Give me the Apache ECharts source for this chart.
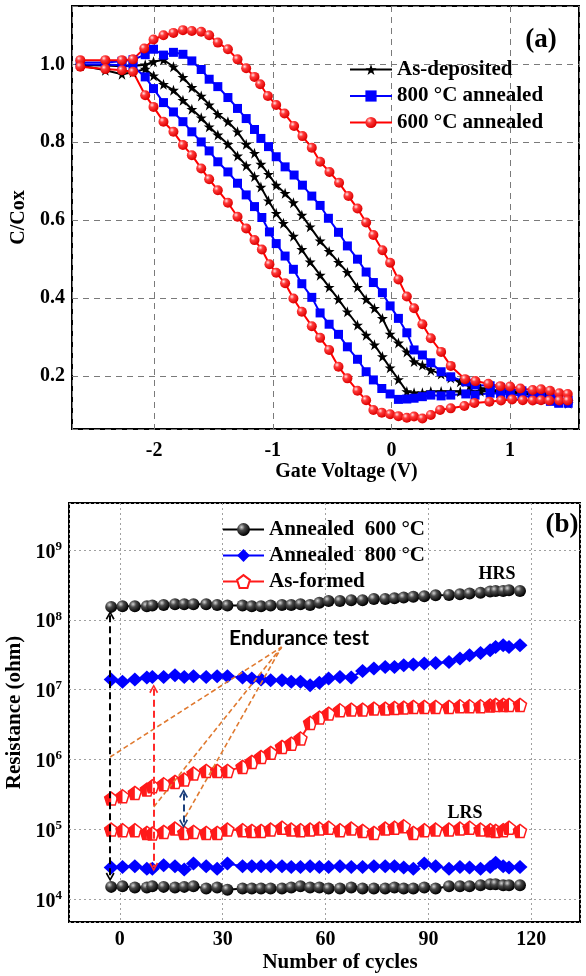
<!DOCTYPE html>
<html>
<head>
<meta charset="utf-8">
<script src="https://cdn.jsdelivr.net/npm/echarts@6/dist/echarts.min.js"></script>
<style>
  html, body { margin: 0; padding: 0; background: #fff; }
  #chart { width: 586px; height: 976px; }
</style>
</head>
<body>
<div id="chart"></div>
<script>
// ---- panel (a): C-V hysteresis, [gate voltage, C/Cox] ----
const cvAsDepUp = [[-2.622,0.998],[-2.411,0.997],[-2.271,0.995],[-2.178,0.996],[-2.075,0.999],[-2.005,1.007],[-1.921,1.012],[-1.837,0.994],[-1.757,0.967],[-1.682,0.941],[-1.603,0.919],[-1.536,0.896],[-1.463,0.872],[-1.378,0.853],[-1.297,0.827],[-1.224,0.795],[-1.154,0.772],[-1.100,0.744],[-1.036,0.718],[-0.971,0.690],[-0.896,0.669],[-0.826,0.645],[-0.755,0.613],[-0.685,0.583],[-0.601,0.547],[-0.525,0.520],[-0.446,0.492],[-0.371,0.466],[-0.286,0.428],[-0.213,0.397],[-0.143,0.374],[-0.076,0.348],[-0.011,0.308],[0.059,0.285],[0.130,0.262],[0.191,0.237],[0.261,0.228],[0.332,0.215],[0.419,0.205],[0.500,0.195],[0.580,0.185],[0.660,0.175],[0.750,0.168],[0.830,0.165],[0.920,0.162],[1.000,0.160],[1.100,0.158],[1.200,0.156],[1.300,0.150],[1.400,0.140],[1.490,0.135]];
const cvAsDepDown = [[-2.622,0.997],[-2.411,0.985],[-2.271,0.975],[-2.178,0.980],[-2.075,0.988],[-2.005,0.971],[-1.921,0.949],[-1.837,0.934],[-1.757,0.908],[-1.682,0.885],[-1.603,0.863],[-1.536,0.840],[-1.463,0.819],[-1.378,0.795],[-1.297,0.765],[-1.224,0.740],[-1.154,0.712],[-1.100,0.685],[-1.036,0.650],[-0.971,0.618],[-0.910,0.592],[-0.826,0.559],[-0.755,0.525],[-0.685,0.493],[-0.601,0.459],[-0.525,0.428],[-0.446,0.397],[-0.371,0.365],[-0.286,0.331],[-0.213,0.305],[-0.143,0.280],[-0.076,0.250],[-0.011,0.221],[0.059,0.191],[0.130,0.160],[0.191,0.157],[0.261,0.157],[0.332,0.160],[0.419,0.160],[0.500,0.160],[0.580,0.160],[0.660,0.161],[0.750,0.161],[0.830,0.160],[0.920,0.158],[1.000,0.157],[1.100,0.155],[1.200,0.150],[1.300,0.143],[1.400,0.135],[1.490,0.130]];
const cv800Up = [[-2.622,1.005],[-2.411,1.005],[-2.271,1.008],[-2.178,1.012],[-2.075,1.025],[-2.005,1.039],[-1.921,1.024],[-1.837,1.031],[-1.757,1.026],[-1.682,1.009],[-1.603,0.987],[-1.536,0.962],[-1.463,0.943],[-1.378,0.915],[-1.297,0.887],[-1.224,0.861],[-1.154,0.833],[-1.100,0.810],[-1.036,0.789],[-0.971,0.763],[-0.896,0.737],[-0.820,0.716],[-0.750,0.690],[-0.671,0.662],[-0.601,0.638],[-0.531,0.605],[-0.446,0.569],[-0.371,0.534],[-0.286,0.500],[-0.213,0.467],[-0.152,0.440],[-0.076,0.414],[-0.011,0.380],[0.059,0.348],[0.130,0.311],[0.191,0.267],[0.261,0.254],[0.332,0.234],[0.419,0.211],[0.500,0.198],[0.627,0.185],[0.705,0.177],[0.832,0.175],[0.920,0.170],[1.000,0.166],[1.100,0.162],[1.190,0.158],[1.260,0.152],[1.340,0.146],[1.410,0.140],[1.490,0.138]];
const cv800Down = [[-2.622,1.000],[-2.411,1.000],[-2.271,0.998],[-2.178,0.995],[-2.075,0.968],[-2.005,0.938],[-1.921,0.902],[-1.837,0.878],[-1.757,0.853],[-1.682,0.827],[-1.603,0.801],[-1.536,0.778],[-1.463,0.750],[-1.378,0.724],[-1.297,0.695],[-1.224,0.665],[-1.154,0.635],[-1.092,0.607],[-1.028,0.570],[-0.971,0.540],[-0.896,0.508],[-0.826,0.474],[-0.755,0.437],[-0.671,0.402],[-0.601,0.362],[-0.525,0.333],[-0.446,0.307],[-0.371,0.275],[-0.286,0.243],[-0.213,0.211],[-0.152,0.190],[-0.081,0.168],[-0.011,0.154],[0.059,0.140],[0.130,0.141],[0.191,0.143],[0.261,0.147],[0.332,0.151],[0.419,0.149],[0.500,0.151],[0.627,0.154],[0.705,0.151],[0.832,0.156],[0.920,0.155],[1.000,0.153],[1.100,0.150],[1.190,0.145],[1.260,0.140],[1.340,0.135],[1.410,0.130],[1.490,0.130]];
const cv600Up = [[-2.622,1.011],[-2.411,1.011],[-2.271,1.011],[-2.178,1.013],[-2.083,1.041],[-2.005,1.064],[-1.921,1.075],[-1.837,1.081],[-1.757,1.088],[-1.682,1.086],[-1.603,1.084],[-1.536,1.075],[-1.463,1.056],[-1.378,1.039],[-1.297,1.013],[-1.224,0.990],[-1.154,0.968],[-1.106,0.949],[-1.041,0.919],[-0.971,0.896],[-0.901,0.874],[-0.820,0.842],[-0.750,0.816],[-0.671,0.786],[-0.601,0.750],[-0.522,0.724],[-0.441,0.696],[-0.362,0.662],[-0.286,0.630],[-0.213,0.594],[-0.152,0.562],[-0.076,0.523],[-0.011,0.491],[0.059,0.448],[0.130,0.404],[0.191,0.374],[0.261,0.333],[0.332,0.297],[0.419,0.262],[0.500,0.226],[0.621,0.192],[0.708,0.187],[0.817,0.180],[0.918,0.174],[1.000,0.173],[1.087,0.168],[1.191,0.164],[1.261,0.166],[1.337,0.162],[1.415,0.156],[1.486,0.154]];
const cv600Down = [[-2.622,0.994],[-2.411,0.988],[-2.271,0.985],[-2.178,0.981],[-2.075,0.921],[-2.005,0.891],[-1.921,0.853],[-1.837,0.827],[-1.757,0.793],[-1.682,0.767],[-1.603,0.733],[-1.536,0.705],[-1.463,0.677],[-1.378,0.645],[-1.297,0.609],[-1.224,0.579],[-1.154,0.549],[-1.092,0.525],[-1.028,0.487],[-0.971,0.465],[-0.896,0.438],[-0.826,0.399],[-0.755,0.365],[-0.671,0.328],[-0.601,0.298],[-0.525,0.267],[-0.446,0.224],[-0.371,0.194],[-0.286,0.162],[-0.213,0.138],[-0.152,0.113],[-0.081,0.106],[-0.011,0.102],[0.059,0.097],[0.130,0.093],[0.191,0.096],[0.261,0.091],[0.332,0.100],[0.410,0.113],[0.500,0.117],[0.615,0.123],[0.699,0.131],[0.826,0.134],[0.924,0.137],[1.017,0.140],[1.107,0.138],[1.191,0.137],[1.261,0.138],[1.331,0.137],[1.415,0.137],[1.486,0.137]];
const vTicks = [-2, -1, 0, 1];
const cTicks = [0.2, 0.4, 0.6, 0.8, 1.0];

// ---- panel (b): endurance, resistance (ohm) per cycle ----
const cycles = [-2.5,0.8,4.4,7.9,9.5,12.8,16.1,18.8,21.5,25.2,28.4,31.4,35.8,38.5,41.2,44.0,47.3,50.0,52.7,55.5,58.2,60.9,64.2,67.5,70.8,74.1,77.4,80.1,82.8,85.6,88.8,92.1,96.0,99.2,102.0,105.2,108.0,109.6,111.8,113.5,116.7];
const hrs600 = [1.53e8,1.56e8,1.56e8,1.56e8,1.60e8,1.63e8,1.67e8,1.67e8,1.67e8,1.67e8,1.63e8,1.60e8,1.60e8,1.56e8,1.56e8,1.60e8,1.63e8,1.63e8,1.67e8,1.63e8,1.75e8,1.86e8,1.86e8,1.91e8,1.91e8,1.99e8,1.99e8,2.03e8,2.08e8,2.13e8,2.17e8,2.24e8,2.27e8,2.32e8,2.37e8,2.43e8,2.54e8,2.59e8,2.59e8,2.65e8,2.59e8];
const lrs600 = [1.49e4,1.52e4,1.46e4,1.46e4,1.52e4,1.49e4,1.46e4,1.49e4,1.52e4,1.41e4,1.46e4,1.36e4,1.41e4,1.41e4,1.41e4,1.41e4,1.41e4,1.46e4,1.52e4,1.46e4,1.46e4,1.41e4,1.41e4,1.46e4,1.41e4,1.41e4,1.41e4,1.46e4,1.41e4,1.41e4,1.46e4,1.41e4,1.52e4,1.52e4,1.52e4,1.57e4,1.63e4,1.63e4,1.57e4,1.57e4,1.57e4];
const hrs800 = [1.39e7,1.29e7,1.39e7,1.49e7,1.52e7,1.52e7,1.60e7,1.52e7,1.55e7,1.52e7,1.55e7,1.55e7,1.49e7,1.44e7,1.39e7,1.36e7,1.36e7,1.29e7,1.29e7,1.15e7,1.25e7,1.44e7,1.52e7,1.49e7,1.85e7,2.00e7,2.11e7,2.11e7,2.23e7,2.28e7,2.36e7,2.41e7,2.49e7,2.78e7,3.10e7,3.35e7,3.66e7,4.08e7,4.32e7,4.08e7,4.32e7];
const lrs800 = [2.82e4,2.88e4,2.94e4,2.72e4,2.72e4,3.04e4,2.94e4,2.64e4,3.21e4,2.94e4,2.72e4,3.21e4,2.94e4,2.94e4,2.94e4,2.94e4,2.94e4,2.88e4,2.88e4,2.94e4,2.88e4,2.88e4,2.94e4,2.88e4,2.88e4,2.94e4,2.94e4,2.94e4,2.82e4,2.72e4,3.21e4,2.94e4,2.72e4,2.88e4,2.82e4,2.72e4,2.88e4,3.29e4,2.94e4,2.82e4,2.88e4];
const hrsFormed = [2.74e5,2.96e5,3.31e5,3.69e5,4.12e5,4.40e5,4.75e5,5.14e5,6.26e5,6.84e5,6.84e5,6.84e5,7.80e5,9.20e5,1.08e6,1.24e6,1.51e6,1.68e6,1.99e6,3.33e6,3.97e6,4.53e6,5.06e6,5.17e6,5.17e6,5.34e6,5.34e6,5.46e6,5.52e6,5.64e6,5.64e6,5.64e6,5.64e6,5.77e6,5.77e6,5.77e6,5.90e6,6.03e6,6.03e6,6.03e6,6.03e6];
const lrsFormed = [9.87e4,9.66e4,9.66e4,8.84e4,8.65e4,9.14e4,1.02e5,8.84e4,9.14e4,8.84e4,8.84e4,9.87e4,9.66e4,9.45e4,9.45e4,9.87e4,1.05e5,9.87e4,9.66e4,9.87e4,1.02e5,1.05e5,9.66e4,1.02e5,9.45e4,8.84e4,1.02e5,1.05e5,1.10e5,8.84e4,9.66e4,9.87e4,9.87e4,1.02e5,1.05e5,9.87e4,9.66e4,9.45e4,9.66e4,1.05e5,9.45e4];
const nTicks = [0, 30, 60, 90, 120];
const rTicks = [4, 5, 6, 7, 8, 9];
// double arrows (cycle, top, bottom) and the "Endurance test" guide lines
const arrowCycle = [-2.8, 9.9, 18.6];
const arrowHigh = [1.16e8, 1.03e7, 3.24e5];
const arrowLow = [2.07e4, 2.87e4, 1.20e5];
const guideFrom = [[-2.8, 1.08e6], [9.9, 2.08e5], [19.1, 1.50e5]];
const guideTo = [47.2, 4.07e7];

// ---- styles ----
const SERIF = '"Liberation Serif", "Times New Roman", serif';
const ink = { color: '#000', fontFamily: SERIF, fontWeight: 'bold' };
const STAR = 'path://M50,0 L61.8,35.1 L98.9,35.1 L68.9,57 L80.3,92.7 L50,70.7 L19.7,92.7 L31.1,57 L1.1,35.1 L38.2,35.1 Z';
const PENT = 'path://M50,4 L95.65,37.17 L78.21,90.83 L21.79,90.83 L4.35,37.17 Z';
// left half plus a tiny sliver at the right vertex so both paths share one bounding box
const PENT_HALF = 'path://M50,4 L50,90.83 L21.79,90.83 L4.35,37.17 Z M95.65,37.17 L94.6,36.6 L94.6,37.8 Z';
const CARET = 'path://M5,0 L10,8.5 L8.4,9.6 L5,3.4 L1.6,9.6 L0,8.5 Z';
const arrowColors = ['#000000', '#ff2a2a', '#1c3f7c'];
const guideColor = '#e07a30';

const redBall = new echarts.graphic.RadialGradient(0.35, 0.32, 0.68, [
  { offset: 0, color: '#ffe6e6' }, { offset: 0.35, color: '#ff3a3a' }, { offset: 1, color: '#dd0000' }
]);
const blackBall = new echarts.graphic.RadialGradient(0.35, 0.32, 0.68, [
  { offset: 0, color: '#d5d5d5' }, { offset: 0.38, color: '#4a4a4a' }, { offset: 1, color: '#000000' }
]);

function onList(list, v) {
  return list.some((t) => Math.abs(t - v) < 1e-6);
}

function cvLine(name, pts, symbol, size, color, fill) {
  return {
    name, type: 'line', xAxisIndex: 0, yAxisIndex: 0, data: pts,
    symbol, symbolSize: size, silent: true, emphasis: { disabled: true },
    lineStyle: { color, width: 2 }, itemStyle: { color: fill }
  };
}

function resLine(name, values, symbol, size, color, itemStyle, noLine) {
  return {
    name, type: 'line', xAxisIndex: 1, yAxisIndex: 1,
    data: cycles.map((c, i) => [c, values[i]]),
    symbol, symbolSize: size, silent: true, emphasis: { disabled: true },
    lineStyle: noLine ? { width: 0, opacity: 0 } : { color, width: 2 },
    itemStyle
  };
}

const formedStyle = { color: '#fff', borderColor: '#ff1a1a', borderWidth: 1.5 };
const formedHalf = { color: '#ff1a1a' };

const arrowLines = arrowCycle.map((c, i) => [
  { coord: [c, arrowHigh[i]], symbol: CARET, symbolSize: [9, 9],
    lineStyle: { color: arrowColors[i], width: 2, type: [7, 4] } },
  { coord: [c, arrowLow[i]], symbol: CARET, symbolSize: [9, 9] }
]);
const guideLines = guideFrom.map((p) => [
  { coord: p, symbol: 'none', lineStyle: { color: guideColor, width: 1.6, type: [5, 3] } },
  { coord: guideTo, symbol: 'none' }
]);

const chart = echarts.init(document.getElementById('chart'), null, { renderer: 'canvas' });

chart.setOption({
  animation: false,
  backgroundColor: '#fff',
  grid: [
    { left: 72, top: 6, width: 507, height: 423, show: true, borderColor: '#000', borderWidth: 2,
      backgroundColor: '#fff', containLabel: false, outerBoundsMode: 'none' },
    { left: 69, top: 503, width: 511, height: 419, show: true, borderColor: '#000', borderWidth: 2,
      backgroundColor: '#fff', containLabel: false, outerBoundsMode: 'none' }
  ],
  xAxis: [
    {
      type: 'value', gridIndex: 0, min: -2.692, max: 1.581, splitNumber: 5,
      axisLine: { show: false }, axisTick: { show: false },
      axisLabel: { ...ink, fontSize: 20, margin: 12, formatter: (v) => (onList(vTicks, v) ? String(Math.round(v)) : '') },
      splitLine: { show: true, lineStyle: { color: '#7a7a7a', width: 1, type: [6, 5] } },
      name: 'Gate Voltage (V)', nameLocation: 'middle', nameGap: 31,
      nameTextStyle: { ...ink, fontSize: 20, padding: [0, 0, 0, 42] }
    },
    {
      type: 'value', gridIndex: 1, min: -14.8, max: 134.2, splitNumber: 5,
      axisLine: { show: false }, axisTick: { show: false },
      axisLabel: { ...ink, fontSize: 20, margin: 8, formatter: (v) => (onList(nTicks, v) ? String(Math.round(v)) : '') },
      splitLine: { show: true, lineStyle: { color: '#a0a0a0', width: 1, type: [2, 3] } },
      name: 'Number of cycles', nameLocation: 'middle', nameGap: 30,
      nameTextStyle: { ...ink, fontSize: 21, padding: [0, 0, 0, 31] }
    }
  ],
  yAxis: [
    {
      type: 'value', gridIndex: 0, min: 0.064, max: 1.150, splitNumber: 5,
      axisLine: { show: false }, axisTick: { show: false },
      axisLabel: { ...ink, fontSize: 20, margin: 7, formatter: (v) => (onList(cTicks, v) ? v.toFixed(1) : '') },
      splitLine: { show: true, lineStyle: { color: '#7a7a7a', width: 1, type: [6, 5] } },
      name: 'C/Cox', nameLocation: 'middle', nameGap: 34,
      nameTextStyle: { ...ink, fontSize: 20 }
    },
    {
      type: 'log', logBase: 10, gridIndex: 1, min: Math.pow(10, 3.670), max: Math.pow(10, 9.673),
      axisLine: { show: false }, axisTick: { show: false },
      axisLabel: {
        ...ink, fontSize: 20, margin: 7,
        formatter: (v) => {
          const e = Math.log10(v);
          return onList(rTicks, e) ? '{b|10}{s|' + Math.round(e) + '}' : '';
        },
        rich: {
          b: { ...ink, fontSize: 20, lineHeight: 20, padding: [5, 0, 0, 0] },
          s: { ...ink, fontSize: 13, lineHeight: 13, verticalAlign: 'top' }
        }
      },
      splitLine: { show: true, lineStyle: { color: '#a0a0a0', width: 1, type: [2, 3] } },
      name: 'Resistance (ohm)', nameLocation: 'middle', nameGap: 40,
      nameTextStyle: { ...ink, fontSize: 21 }
    }
  ],
  legend: [
    {
      data: ['As-deposited', '800 °C annealed', '600 °C annealed'],
      orient: 'vertical', left: 349, top: 59, padding: 0,
      itemWidth: 42, itemHeight: 14, itemGap: 5.5, selectedMode: false,
      textStyle: { ...ink, fontSize: 21, lineHeight: 21 }
    },
    {
      data: ['Annealed  600 °C', 'Annealed  800 °C', 'As-formed'],
      orient: 'vertical', left: 222, top: 519, padding: 0,
      itemWidth: 41, itemHeight: 16, itemGap: 5, selectedMode: false,
      textStyle: { ...ink, fontSize: 21, lineHeight: 21 }
    }
  ],
  series: [
    cvLine('As-deposited', cvAsDepUp, STAR, 11, '#000', '#000'),
    cvLine('As-deposited', cvAsDepDown, STAR, 11, '#000', '#000'),
    cvLine('800 °C annealed', cv800Up, 'rect', 9, '#0000ff', '#0000ff'),
    cvLine('800 °C annealed', cv800Down, 'rect', 9, '#0000ff', '#0000ff'),
    cvLine('600 °C annealed', cv600Up, 'circle', 10, '#ff0000', redBall),
    cvLine('600 °C annealed', cv600Down, 'circle', 10, '#ff0000', redBall),

    resLine('Annealed  600 °C', hrs600, 'circle', 12, '#000', { color: blackBall }),
    resLine('Annealed  600 °C', lrs600, 'circle', 12, '#000', { color: blackBall }),
    resLine('Annealed  800 °C', hrs800, 'diamond', [15, 14], '#0000ff', { color: '#0000ff' }),
    resLine('Annealed  800 °C', lrs800, 'diamond', [15, 14], '#0000ff', { color: '#0000ff' }),
    resLine('As-formed', hrsFormed, PENT, 13, '#ff1a1a', formedStyle),
    resLine('As-formed', hrsFormed, PENT_HALF, 13, '#ff1a1a', formedHalf, true),
    resLine('As-formed', lrsFormed, PENT, 13, '#ff1a1a', formedStyle),
    resLine('As-formed', lrsFormed, PENT_HALF, 13, '#ff1a1a', formedHalf, true),
    {
      type: 'line', xAxisIndex: 1, yAxisIndex: 1, data: [], silent: true, z: 5,
      markLine: { silent: true, animation: false, label: { show: false }, emphasis: { disabled: true },
        data: guideLines.concat(arrowLines) }
    }
  ],
  graphic: [
    { type: 'text', x: 541, y: 40, silent: true,
      style: { text: '(a)', fill: '#000', fontFamily: SERIF, fontWeight: 'bold', fontSize: 27, align: 'center', verticalAlign: 'middle' } },
    { type: 'text', x: 562, y: 525, silent: true,
      style: { text: '(b)', fill: '#000', fontFamily: SERIF, fontWeight: 'bold', fontSize: 27, align: 'center', verticalAlign: 'middle' } },
    { type: 'text', x: 497, y: 574, silent: true,
      style: { text: 'HRS', fill: '#000', fontFamily: SERIF, fontWeight: 'bold', fontSize: 18, align: 'center', verticalAlign: 'middle' } },
    { type: 'text', x: 465, y: 813, silent: true,
      style: { text: 'LRS', fill: '#000', fontFamily: SERIF, fontWeight: 'bold', fontSize: 18, align: 'center', verticalAlign: 'middle' } },
    { type: 'text', x: 299, y: 638, silent: true,
      style: { text: 'Endurance test', fill: '#000', fontFamily: 'Lato, "Noto Sans", sans-serif', fontWeight: 'bold', fontSize: 21, align: 'center', verticalAlign: 'middle' } }
  ]
});
</script>
</body>
</html>
